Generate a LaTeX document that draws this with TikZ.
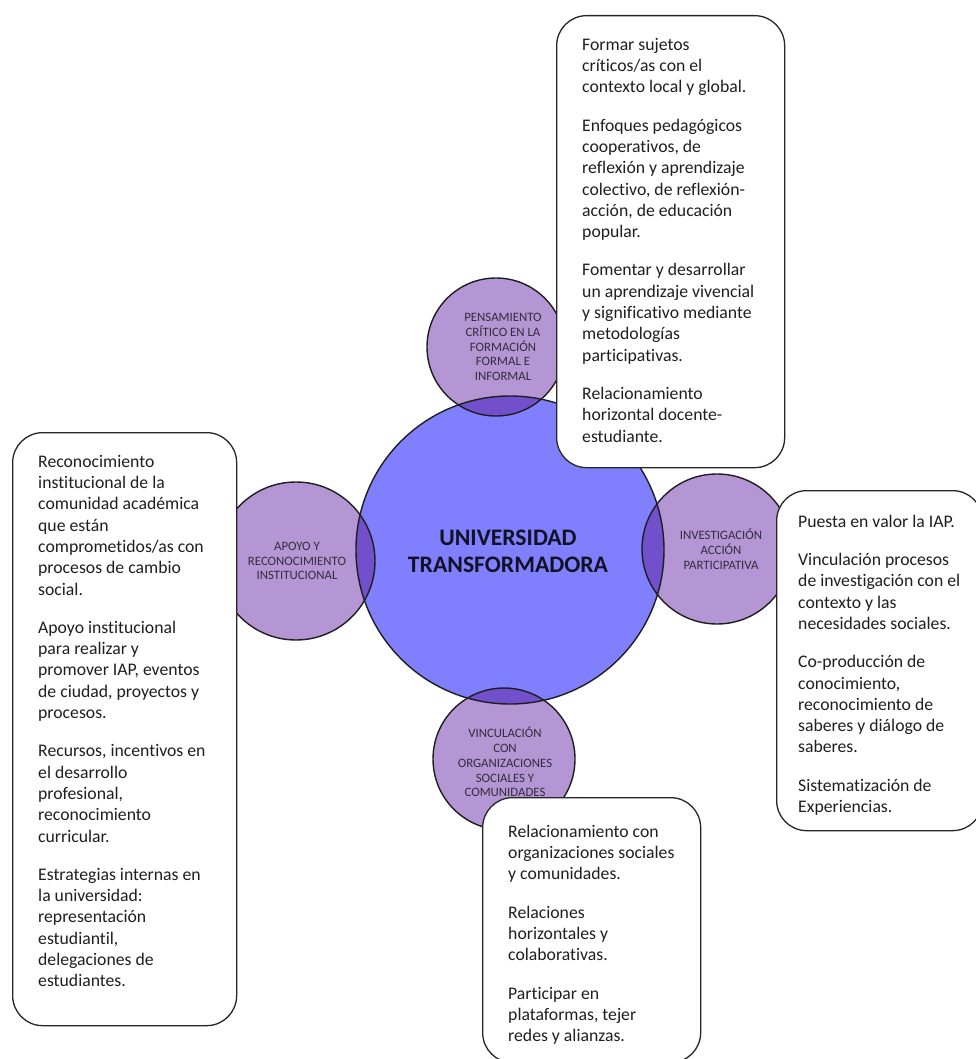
\documentclass[tikz,border=0pt]{standalone}
\usepackage{fontspec}
\setmainfont{Carlito}[Ligatures={TeX,NoCommon}]
\definecolor{mainfill}{RGB}{128,128,255}
\definecolor{smallfill}{RGB}{181,150,213}
\definecolor{overfill}{RGB}{114,80,204}
\definecolor{outl}{RGB}{30,30,30}
\definecolor{labelgray}{RGB}{50,45,60}
\definecolor{titlecol}{RGB}{18,18,38}
\begin{document}
\begin{tikzpicture}[x=1pt,y=-1pt,
  ring/.style={circle, draw=outl, line width=1.4pt, inner sep=0pt},
  circlabel/.style={font=\fontsize{12.8}{14.7}\selectfont, text=labelgray, align=center, inner sep=0pt},
  bodytext/.style={font=\fontsize{17.7}{21.3}\selectfont, text=black!88, align=left, inner sep=0pt, anchor=north west},
  card/.style={draw=black!85, fill=white, line width=1.3pt, rounded corners=30pt, inner sep=0pt, anchor=north west}]
\useasboundingbox (0,0) rectangle (976,1059);
% fills
\fill[mainfill] (510,550) circle[radius=154pt];
\fill[smallfill] (496,347) circle[radius=69pt] (296,561) circle[radius=79pt]
  (717,549) circle[radius=75pt] (504,759) circle[radius=71pt];
\begin{scope}
  \clip (510,550) circle[radius=154pt];
  \fill[overfill] (496,347) circle[radius=69pt] (296,561) circle[radius=79pt]
    (717,549) circle[radius=75pt] (504,759) circle[radius=71pt];
\end{scope}
% outlines
\node[ring, minimum size=308pt] (main) at (510,550) {};
\node[ring, minimum size=138pt] (pens) at (496,347) {};
\node[ring, minimum size=158pt] (apoyo) at (296,561) {};
\node[ring, minimum size=150pt] (inv) at (717,549) {};
\node[ring, minimum size=142pt] (vinc) at (504,759) {};
% labels
\node[font=\bfseries\fontsize{23.7}{26.7}\selectfont, text=titlecol, align=center, inner sep=0pt] (title) at (508,551) {UNIVERSIDAD\\TRANSFORMADORA};
\node[circlabel] (pensl) at (503,347) {PENSAMIENTO\\CRÍTICO EN LA\\FORMACIÓN\\FORMAL E\\INFORMAL};
\node[circlabel] (apoyol) at (297,561) {APOYO Y\\RECONOCIMIENTO\\INSTITUCIONAL};
\node[circlabel] (invl) at (721,549) {INVESTIGACIÓN\\ACCIÓN\\PARTICIPATIVA};
\node[circlabel] (vincl) at (505,762) {VINCULACIÓN\\CON\\ORGANIZACIONES\\SOCIALES Y\\COMUNIDADES};
% cards
\node[card, minimum width=228pt, minimum height=452pt] (topcard) at (556,15) {};
\node[card, minimum width=224pt, minimum height=593pt] (leftcard) at (12,432) {};
\node[card, minimum width=206pt, minimum height=340pt] (rightcard) at (776,490) {};
\node[card, minimum width=218pt, minimum height=265pt] (botcard) at (482,797) {};
% card texts
\node[bodytext] (toptext) at (582,35.1) {\strut Formar sujetos\\críticos/as con el\\contexto local y global.\\[17pt]
Enfoques pedagógicos\\cooperativos, de\\reflexión y aprendizaje\\colectivo, de reflexión-\\acción, de educación\\popular.\\[17pt]
Fomentar y desarrollar\\un aprendizaje vivencial\\y significativo mediante\\metodologías\\participativas.\\[17pt]
Relacionamiento\\horizontal docente-\\estudiante.};
\node[bodytext] (lefttext) at (38,452.1) {\strut Reconocimiento\\institucional de la\\comunidad académica\\que están\\comprometidos/as con\\procesos de cambio\\social.\\[17pt]
Apoyo institucional\\para realizar y\\promover IAP, eventos\\de ciudad, proyectos y\\procesos.\\[17pt]
Recursos, incentivos en\\el desarrollo\\profesional,\\reconocimiento\\curricular.\\[17pt]
Estrategias internas en\\la universidad:\\representación\\estudiantil,\\delegaciones de\\estudiantes.};
\node[bodytext] (righttext) at (798,512.1) {\strut Puesta en valor la IAP.\\[17pt]
Vinculación procesos\\de investigación con el\\contexto y las\\necesidades sociales.\\[17pt]
Co-producción de\\conocimiento,\\reconocimiento de\\saberes y diálogo de\\saberes.\\[17pt]
Sistematización de\\Experiencias.};
\node[bodytext] (bottext) at (508,822.1) {\strut Relacionamiento con\\organizaciones sociales\\y comunidades.\\[17pt]
Relaciones\\horizontales y\\colaborativas.\\[17pt]
Participar en\\plataformas, tejer\\redes y alianzas.};
\end{tikzpicture}
\end{document}
